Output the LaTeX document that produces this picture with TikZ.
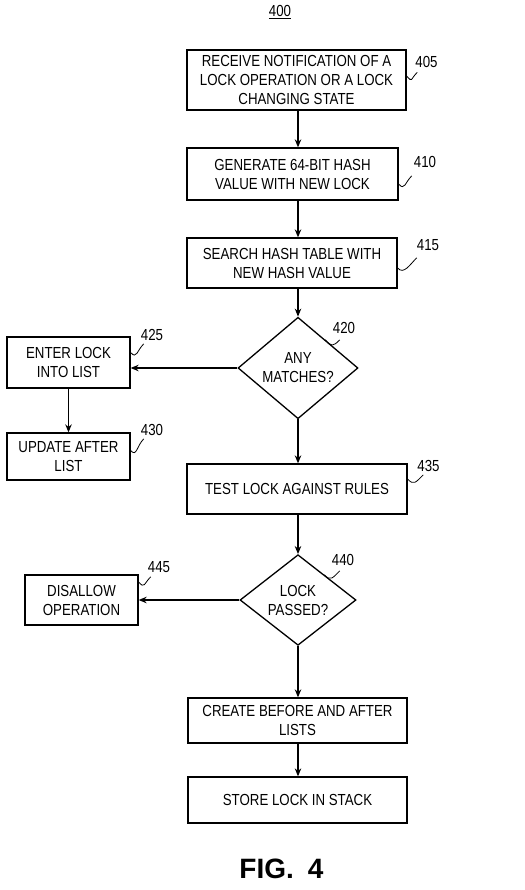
\documentclass[tikz,border=0pt]{standalone}
\usepackage{fontspec}
\setmainfont{Liberation Sans}[FakeStretch=0.83]
\newfontfamily\figfont{Liberation Sans}
\usetikzlibrary{shapes.geometric,arrows.meta,calc}
\begin{document}
\begin{tikzpicture}[x=1pt,y=-1pt,
  every node/.style={font=\fontsize{16}{19}\selectfont},
  box/.style={draw,line width=1.3pt,inner sep=0pt,align=center},
  dia/.style={draw,diamond,line width=1.3pt,inner sep=0pt,align=center},
  arr/.style={line width=1.2pt,-{Stealth[length=8pt,width=6.5pt]}},
  lbl/.style={inner sep=0pt},
  sq/.style={line width=0.8pt}]
\useasboundingbox (0,0) rectangle (524,890);

\node[lbl] (n400) at (280,12) {\underline{400}};

\node[box,minimum width=219pt,minimum height=60pt] (b405) at (296.5,80)
  {RECEIVE NOTIFICATION OF A\\LOCK OPERATION OR A LOCK\\CHANGING STATE};
\node[box,minimum width=211pt,minimum height=52pt] (b410) at (292.5,174)
  {GENERATE 64-BIT HASH\\VALUE WITH NEW LOCK};
\node[box,minimum width=210pt,minimum height=50pt] (b415) at (292,263)
  {SEARCH HASH TABLE WITH\\NEW HASH VALUE};
\node[dia,minimum width=120pt,minimum height=84pt] (d420) at (298,368)
  {ANY\\MATCHES?};
\node[box,minimum width=123pt,minimum height=51pt] (b425) at (68.5,362.5)
  {ENTER LOCK\\INTO LIST};
\node[box,minimum width=123pt,minimum height=47pt] (b430) at (68.5,456.5)
  {UPDATE AFTER\\LIST};
\node[box,minimum width=220pt,minimum height=50pt] (b435) at (297,489)
  {TEST LOCK AGAINST RULES};
\node[dia,minimum width=116pt,minimum height=84pt] (d440) at (298,600)
  {LOCK\\PASSED?};
\node[box,minimum width=113pt,minimum height=50pt] (b445) at (81.5,600)
  {DISALLOW\\OPERATION};
\node[box,minimum width=219pt,minimum height=45pt] (b450) at (297.5,720.5)
  {CREATE BEFORE AND AFTER\\LISTS};
\node[box,minimum width=219pt,minimum height=46pt] (b455) at (297.5,800)
  {STORE LOCK IN STACK};

\node[anchor=base,inner sep=0pt,font=\figfont\bfseries\fontsize{28}{30}\selectfont] (fig) at (281.5,878) {FIG.\hspace{0.5em}4};

% connectors
\draw[arr] (b405.south -| d420.north) -- (b410.north -| d420.north);
\draw[arr] (b410.south -| d420.north) -- (b415.north -| d420.north);
\draw[arr] (b415.south -| d420.north) -- (d420.north);
\draw[arr] (d420.west) -- (d420.west -| b425.east);
\draw[arr] (b425.south) -- (b430.north);
\draw[arr] (d420.south) -- (d420.south |- b435.north);
\draw[arr] (b435.south -| d440.north) -- (d440.north);
\draw[arr] (d440.west) -- (d440.west -| b445.east);
\draw[arr] (d440.south) -- (d440.south |- b450.north);
\draw[arr] (b450.south -| d440.north) -- (b455.north -| d440.north);

% reference numerals
\node[lbl] (l405) at (426.5,61.5) {405};
\node[lbl] (l410) at (425,162) {410};
\node[lbl] (l415) at (428,245) {415};
\node[lbl] (l420) at (344,328) {420};
\node[lbl] (l425) at (152,335) {425};
\node[lbl] (l430) at (152,430) {430};
\node[lbl] (l435) at (428.5,466) {435};
\node[lbl] (l440) at (343,560) {440};
\node[lbl] (l445) at (159,567) {445};

\draw[sq] ($(b405.east)+(0,-4)$) .. controls +(6,7) and +(-7,7) .. ($(l405.south west)+(2,5)$);
\draw[sq] ($(b410.east)+(0,10)$) .. controls +(6,7) and +(-7,7) .. ($(l410.south west)+(-2,8)$);
\draw[sq] ($(b415.east)+(0,5)$) .. controls +(6,7) and +(-7,7) .. ($(l415.south west)+(0,7)$);
\draw[sq] ($(d420.north)!0.45!(d420.east)$) .. controls +(6,7) and +(-7,7) .. ($(l420.south west)+(7,6)$);
\draw[sq] ($(b425.east)+(0,-10)$) .. controls +(6,7) and +(-7,7) .. ($(l425.south west)+(3,3)$);
\draw[sq] ($(b430.east)+(0,-6)$) .. controls +(6,7) and +(-7,7) .. ($(l430.south west)+(3,3)$);
\draw[sq] ($(b435.east)+(0,-10)$) .. controls +(6,7) and +(-7,7) .. ($(l435.south west)+(6,3)$);
\draw[sq] ($(d440.north)!0.45!(d440.east)$) .. controls +(6,7) and +(-7,7) .. ($(l440.south west)+(8,5)$);
\draw[sq] ($(b445.east)+(0,-18)$) .. controls +(6,7) and +(-7,7) .. ($(l445.south west)+(3,4)$);
\end{tikzpicture}
\end{document}
